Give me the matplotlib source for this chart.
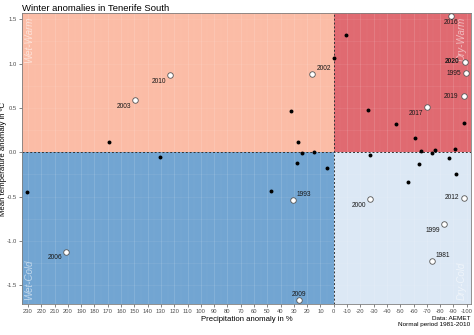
import matplotlib
matplotlib.use("Agg")
import matplotlib.pyplot as plt
import numpy as np

plt.rcParams['font.family'] = ['Liberation Sans', 'DejaVu Sans']

# Winters without a label
other_precip = [169, 0, 32, 27, 23.6, 14.6, 28, 5, 231, 131, 47,
                -27, -64, -56, -74, -87, -92,
                -9, -26, -47, -98, -61, -66, -76, -91]
other_temp = [0.12, 1.06, 0.47, 0.12, -0.01, 0.0, -0.12, -0.18, -0.45, -0.05, -0.44,
              -0.03, -0.13, -0.33, -0.01, -0.06, -0.24,
              1.32, 0.48, 0.32, 0.33, 0.16, 0.01, 0.02, 0.04]

# Highlighted winters
years = ["2003", "2010", "2002", "2006", "1993", "2009", "2000", "2012",
         "1999", "1981", "2016", "2020", "1995", "2019", "2017"]
year_precip = [149.6, 123, 16, 201.5, 30.6, 26, -27.3, -97.7,
               -83, -74, -88, -98.7, -99.7, -98, -70.4]
year_temp = [0.59, 0.87, 0.88, -1.12, -0.54, -1.67, -0.53, -0.51,
             -0.81, -1.23, 1.54, 1.02, 0.89, 0.63, 0.51]
# label placement (points), relative to each marker
label_offsets = [(-5, -3.5), (-5, -3.5), (5, 3), (-5, -3.5), (5, 3), (0, 3),
                 (-5, -3.5), (-6, 0), (-5, -3.5), (5, 3), (0, -4), (-7, 0),
                 (-7, 0), (-7, 0), (-5, -3.5)]

x_ticks = list(range(230, -101, -10))
y_ticks = [-1.5, -1.0, -0.5, 0.0, 0.5, 1.0, 1.5]

x_left, x_right = 234.5, -103
y_bottom, y_top = -1.71, 1.565

fig = plt.figure(figsize=(4.74, 3.35), dpi=100)
ax = fig.add_axes([0.0464, 0.0925, 0.9466, 0.8675])
ax.set_xlim(x_left, x_right)
ax.set_ylim(y_bottom, y_top)

# quadrant backgrounds
zero_frac = (0 - y_bottom) / (y_top - y_bottom)
ax.axvspan(x_left, 0, ymin=0, ymax=zero_frac, color="#72a5d2", lw=0, zorder=0)
ax.axvspan(x_left, 0, ymin=zero_frac, ymax=1, color="#fbbca6", lw=0, zorder=0)
ax.axvspan(0, x_right, ymin=0, ymax=zero_frac, color="#dce8f5", lw=0, zorder=0)
ax.axvspan(0, x_right, ymin=zero_frac, ymax=1, color="#e06a71", lw=0, zorder=0)

# faint grid
for xv in x_ticks:
    ax.axvline(xv, color="white", lw=0.5, alpha=0.18, zorder=1)
    ax.axvline(xv - 5, color="white", lw=0.3, alpha=0.1, zorder=1)
for yv in np.arange(-1.5, 1.6, 0.25):
    ax.axhline(yv, color="white", lw=0.4, alpha=0.12, zorder=1)

ax.axvline(0, color="#333333", lw=0.7, ls=(0, (2, 2)), zorder=2)
ax.axhline(0, color="#333333", lw=0.7, ls=(0, (2, 2)), zorder=2)

# quadrant names
qkw = dict(color="white", alpha=0.55, rotation=90, fontsize=7, style="italic", zorder=3)
ax.text(x_left - 2, y_top - 0.04, "Wet-Warm", ha="left", va="top", **qkw)
ax.text(x_right + 3, y_top - 0.04, "Dry-Warm", ha="right", va="top", **qkw)
ax.text(x_left - 2, y_bottom + 0.04, "Wet-Cold", ha="left", va="bottom", **qkw)
ax.text(x_right + 3, y_bottom + 0.04, "Dry-Cold", ha="right", va="bottom", **qkw)

ax.scatter(other_precip, other_temp, s=8, color="black", zorder=4, linewidths=0)
ax.scatter(year_precip, year_temp, s=16, facecolor="white", edgecolor="#555555",
           linewidths=0.6, zorder=4)

for yr, px, ty, (dx, dy) in zip(years, year_precip, year_temp, label_offsets):
    ha = "center" if dx == 0 else ("left" if dx > 0 else "right")
    va = "center" if dy == 0 else ("bottom" if dy > 0 else "top")
    ax.annotate(yr, (px, ty), xytext=(dx * 0.55, dy * 0.55), textcoords="offset points",
                ha=ha, va=va, fontsize=4.8, color="#1a1a1a",
                fontweight="bold" if yr == "2020" else "normal", zorder=5)

ax.set_xticks(x_ticks)
ax.set_xticklabels([str(v) for v in x_ticks])
ax.set_yticks(y_ticks)
ax.set_yticklabels([f"{v:.1f}" for v in y_ticks])
ax.tick_params(axis="both", labelsize=4.2, colors="#555555", length=2, width=0.5, pad=1.5)
for lab in ax.get_xticklabels() + ax.get_yticklabels():
    lab.set_color("#4d4d4d")
for sp in ax.spines.values():
    sp.set_color("#7f7f7f")
    sp.set_linewidth(0.6)

ax.set_xlabel("Precipitation anomaly in %", fontsize=5.6, labelpad=1.5)
ax.set_ylabel("Mean temperature anomaly in ºC", fontsize=5.6)
ax.yaxis.set_label_coords(-0.034, 0.5)

fig.text(0.0464, 0.975, "Winter anomalies in Tenerife South", fontsize=6.8, ha="left", va="center")
fig.text(0.993, 0.04, "Data: AEMET\nNormal period 1981-2010", fontsize=4.6, ha="right",
         va="center", linespacing=1.2)

fig.savefig("out.png", dpi=100)
